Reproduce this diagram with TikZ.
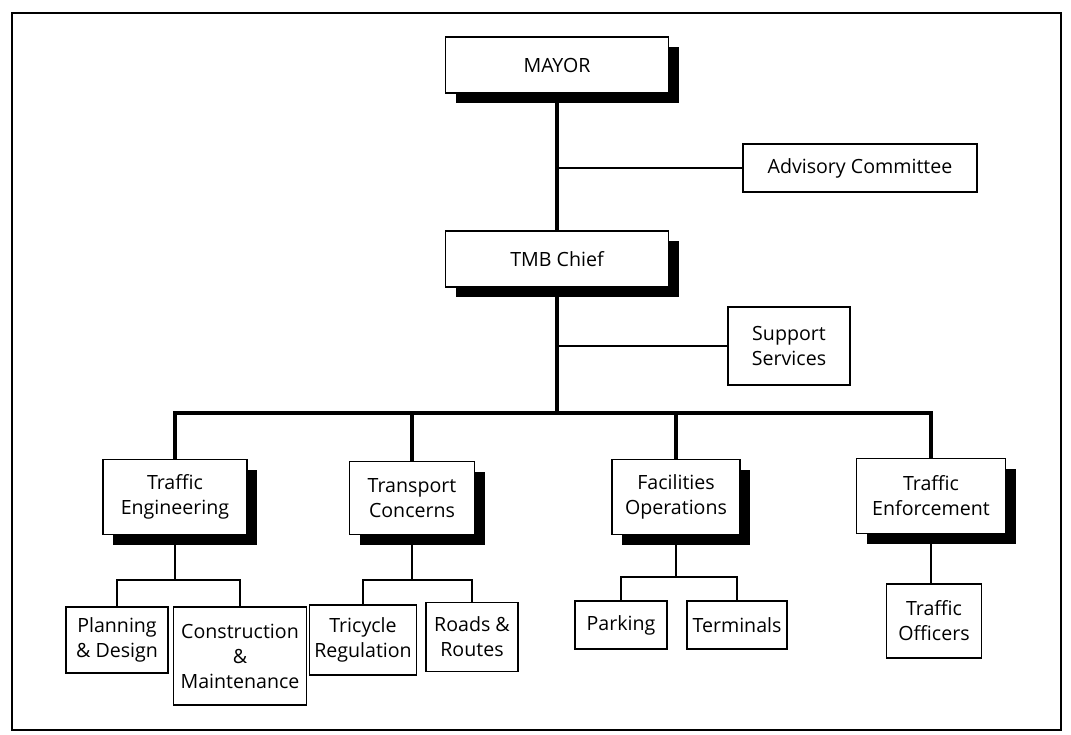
\documentclass[tikz,border=0pt]{standalone}
\usepackage{fontspec}
\setmainfont{Open Sans}
\usetikzlibrary{positioning}
\usetikzlibrary{shadows}

\tikzset{
  box/.style={draw, fill=white, line width=0.9pt, align=center, inner sep=1pt,
    font=\fontsize{9.8}{12.5}\selectfont},
  headbox/.style={box, drop shadow={shadow xshift=5pt, shadow yshift=-5pt, fill=black, opacity=1}},
  trunk/.style={line width=2pt},
  twig/.style={line width=1pt},
  side/.style={line width=0.8pt}
}

\begin{document}
\begin{tikzpicture}[x=0.5pt, y=-0.5pt]
    \useasboundingbox (0,0) rectangle (1071,734);
    \draw[line width=1pt] (12,13) rectangle (1061,730);

    \node[headbox, minimum width=111.5pt, minimum height=28pt] (mayor) at (557, 65) {MAYOR};
    \node[box, minimum width=117pt, minimum height=24pt] (advisory) at (860, 168) {Advisory Committee};
    \node[headbox, minimum width=111.5pt, minimum height=28pt] (tmb) at (557, 259) {TMB Chief};
    \node[box, minimum width=61pt, minimum height=39pt] (support) at (789, 346) {Support\\Services};

    \node[headbox, minimum width=72pt, minimum height=37.5pt] (traffeng) at (175, 497) {Traffic\\Engineering};
    \node[headbox, minimum width=62.5pt, minimum height=36.5pt] (transcon) at (412, 498) {Transport\\Concerns};
    \node[headbox, minimum width=64pt, minimum height=37.5pt] (facops) at (676, 497) {Facilities\\Operations};
    \node[headbox, minimum width=74.5pt, minimum height=37.5pt] (traffenf) at (931, 496) {Traffic\\Enforcement};

    \node[box, minimum width=51pt, minimum height=33pt] (plandes) at (117, 640) {Planning\\\& Design};
    \node[box, minimum width=66.5pt, minimum height=49pt] (constr) at (240, 656) {Construction\\\&\\Maintenance};
    \node[box, minimum width=53.5pt, minimum height=35pt] (tricycle) at (363, 640) {Tricycle\\Regulation};
    \node[box, minimum width=46pt, minimum height=34.5pt] (roads) at (472, 637) {Roads \&\\Routes};
    \node[box, minimum width=46pt, minimum height=24pt] (parking) at (621, 625) {Parking};
    \node[box, minimum width=50pt, minimum height=24pt] (terminals) at (737, 625) {Terminals};
    \node[box, minimum width=47.5pt, minimum height=37pt] (officers) at (934, 621) {Traffic\\Officers};

    \coordinate (bar) at (557, 413);
    \coordinate (engfork) at (178, 580);
    \coordinate (confork) at (414, 580);
    \coordinate (opsfork) at (679, 577);

    \draw[trunk] (mayor.south) -- (tmb.north);
    \draw[trunk] (tmb.south) -- (bar);
    \draw[trunk] (traffeng.north) |- (bar) -| (traffenf.north);
    \draw[trunk] (transcon.north) -- (transcon.north |- bar);
    \draw[trunk] (facops.north) -- (facops.north |- bar);

    \draw[side] (advisory.west) -- (advisory.west -| mayor);
    \draw[side] (support.west) -- (support.west -| tmb);

    \draw[twig] (traffeng.south) -- (traffeng.south |- engfork);
    \draw[twig] (plandes.north) |- (engfork) -| (constr.north);
    \draw[twig] (transcon.south) -- (transcon.south |- confork);
    \draw[twig] (tricycle.north) |- (confork) -| (roads.north);
    \draw[twig] (facops.south) -- (facops.south |- opsfork);
    \draw[twig] (parking.north) |- (opsfork) -| (terminals.north);
    \draw[twig] (traffenf.south) -- (traffenf.south |- officers.north);
  \end{tikzpicture}
\end{document}
